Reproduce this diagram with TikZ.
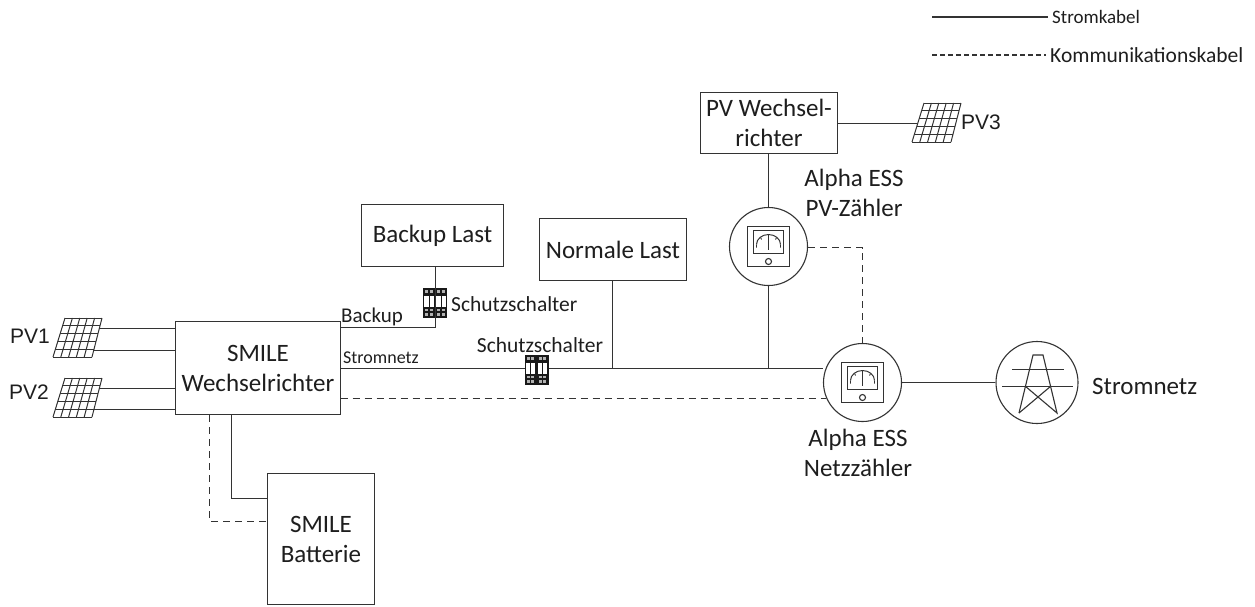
\documentclass[tikz,border=0pt]{standalone}
\usepackage{fontspec}
\setmainfont{Carlito}
\newfontfamily\arialf{Liberation Sans}
\definecolor{ln}{HTML}{333333}
\definecolor{tx}{HTML}{1E1E1E}
\tikzset{
  x=1pt,y=-1pt,
  wire/.style={draw=ln,line width=1.1pt},
  comm/.style={draw=ln,line width=1.1pt,dash pattern=on 7pt off 5pt},
  boxn/.style={draw=ln,line width=1.1pt,fill=white,text=tx,inner sep=0pt,outer sep=0pt,align=center,font=\fontsize{25}{30}\selectfont},
  ring/.style={draw=ln,line width=1.1pt,circle,fill=white,inner sep=0pt},
  lab/.style={text=tx,inner sep=0pt,align=center,font=\fontsize{25}{30}\selectfont},
  smalllab/.style={text=tx,inner sep=0pt,font=\fontsize{21.5}{26}\selectfont},
  pvlab/.style={text=tx,inner sep=0pt,font=\arialf\fontsize{21}{25}\selectfont},
  panelgrid/.pic={
    \fill[white] (12,-19.5)--(49,-19.5)--(39,19.5)--(0,19.5)--cycle;
    \foreach \i in {0,...,5}{
      \draw[draw=ln,line width=1pt] ({12+37*\i/5},-19.5)--({0+39*\i/5},19.5);
    }
    \foreach \j in {0,...,5}{
      \draw[draw=ln,line width=1pt] ({12-12*\j/5},{-19.5+39*\j/5})--({49-10*\j/5},{-19.5+39*\j/5});
    }
  },
  meterpic/.pic={
    \draw[draw=ln,line width=1.1pt] (-21,-20) rectangle (21,20);
    \draw[draw=ln,line width=1.1pt] (-15,-16) rectangle (15,7);
    \draw[draw=ln,line width=1pt] (-12,-2) arc[start angle=180,end angle=360,x radius=12,y radius=10];
    \draw[draw=ln,line width=1pt] (0,-12)--(0,3);
    \draw[draw=ln,line width=.9pt] (-8,-9)--(-7,-7) (8,-9)--(7,-7) (-12,-2)--(-12,1) (12,-2)--(12,1);
    \draw[draw=ln,line width=1.1pt] (0,15) circle (3);
  },
  breakerpic/.pic={
    \fill[black!90] (-12,-15) rectangle (12,15);
    \foreach \x in {-11,1}{
      \fill[white] (\x,-7) rectangle ++(9.5,11);
      \fill[white!70!black] (\x+1,-13) rectangle ++(3,3);
      \fill[white!70!black] (\x+5.5,-13) rectangle ++(3,3);
      \fill[white!70!black] (\x+1,6) rectangle ++(3,2);
      \fill[white!70!black] (\x+5.5,6) rectangle ++(3,2);
      \fill[white!70!black] (\x+1,10) rectangle ++(3,3);
      \fill[white!70!black] (\x+5.5,10) rectangle ++(3,3);
    }
    \draw[black!90,line width=.8pt] (-6,-7)--(-6,4) (6,-7)--(6,4);
  }
}
\begin{document}
\begin{tikzpicture}
\useasboundingbox (0,0) rectangle (1255,606);
% boxes
\node[boxn,minimum width=165pt,minimum height=93pt] (inv) at (258,368) {SMILE\\Wechselrichter};
\node[boxn,minimum width=107pt,minimum height=131pt] (bat) at (321,539) {SMILE\\Batterie};
\node[boxn,minimum width=142pt,minimum height=62pt] (bl) at (432.5,235.5) {Backup Last};
\node[boxn,minimum width=147pt,minimum height=62pt] (nl) at (613,249.5) {Normale Last};
\node[boxn,minimum width=137pt,minimum height=61pt] (pvi) at (769,123) {PV Wechsel-\\richter};
\node[ring,minimum size=78pt] (m1) at (768.5,246.5) {};
\node[ring,minimum size=78pt] (m2) at (862.5,382.5) {};
\node[ring,minimum size=82pt] (gr) at (1037,382.5) {};
\node[inner sep=0pt,minimum size=1pt] (pv1) at (53,337.5) {};
\node[inner sep=0pt,minimum size=1pt] (pv2) at (53,397.5) {};
\node[inner sep=0pt,minimum size=1pt] (pv3) at (912,122.5) {};
\node[inner sep=0pt,minimum size=1pt] (br1) at (435,303) {};
\node[inner sep=0pt,minimum size=1pt] (br2) at (536.5,370) {};
% junctions and free ends
\coordinate (j1) at (612.5,368.5);
\coordinate (j2) at (768.5,368.5);
\coordinate (c1) at (435.5,327.5);
\coordinate (a1) at (97,328.5);
\coordinate (a2) at (92,350.5);
\coordinate (a3) at (97,388.5);
\coordinate (a4) at (92,409.5);
\coordinate (a5) at (920,123.5);
\coordinate (leg1a) at (932,17);\coordinate (leg1b) at (1048,17);
\coordinate (leg2a) at (932,55);\coordinate (leg2b) at (1046,55);
% power wiring
\draw[wire] (a1)--(a1-|inv.west);
\draw[wire] (a2)--(a2-|inv.west);
\draw[wire] (a3)--(a3-|inv.west);
\draw[wire] (a4)--(a4-|inv.west);
\draw[wire] (pvi.east|-a5)--(a5);
\draw[wire] (inv.east|-c1)--(c1)--(c1|-bl.south);
\draw[wire] (inv.east|-j1)--(m2.west|-j1);
\draw[wire] (j1)--(j1|-nl.south);
\draw[wire] (j2)--(m1.south);
\draw[wire] (m1.north)--(m1.north|-pvi.south);
\draw[wire] (m2.east)--(gr.west);
\draw[wire] (231.5,415)--(231.5,498.5)--(bat.west|-0,498.5);
% comm wiring
\draw[comm] (inv.east|-0,398.5)--(826,398.5);
\draw[comm] (m1.east)++(0,1)--(862.5,247.5)--(m2.north);
\draw[comm] (209.5,415)--(209.5,521.5)--(bat.west|-0,521.5);
% legend
\draw[wire,line width=1.4pt] (leg1a)--(leg1b);
\draw[draw=ln,line width=1.4pt,dash pattern=on 5pt off 3pt] (leg2a)--(leg2b);
% symbols
\pic at (pv1) {panelgrid};
\pic at (pv2) {panelgrid};
\pic at (pv3) {panelgrid};
\pic at (m1) {meterpic};
\pic at (m2) {meterpic};
\pic at (br1) {breakerpic};
\pic at (br2) {breakerpic};
\draw[wire] (435.5,288)--(435.5,318);
% tower
\draw[draw=ln,line width=1.1pt] (1019,413)--(1033,355)--(1043,355)--(1057,413)--(1025,386);
\draw[draw=ln,line width=1.1pt] (1051,386)--(1019,413);
\draw[draw=ln,line width=1.1pt] (1012,369.5)--(1064,369.5) (1002,386.5)--(1073,386.5);
% labels
\node[lab] (tm1) at (854,193) {Alpha ESS\\PV-Zähler};
\node[lab] (tm2) at (858,453) {Alpha ESS\\Netzzähler};
\node[lab,anchor=west] (tg) at (1092,386) {Stromnetz};
\node[smalllab,anchor=west] (ts1) at (451,304) {Schutzschalter};
\node[smalllab] (ts2) at (540,345) {Schutzschalter};
\node[smalllab,anchor=west,font=\fontsize{21}{25}\selectfont] (tb) at (341,317) {Backup};
\node[smalllab,anchor=west,font=\fontsize{18}{22}\selectfont] (tsn) at (343,358) {Stromnetz};
\node[pvlab,anchor=west] (p1) at (10,336) {PV1};
\node[pvlab,anchor=west] (p2) at (9,392) {PV2};
\node[pvlab,anchor=west] (p3) at (961,122) {PV3};
\node[smalllab,anchor=west,font=\fontsize{19}{23}\selectfont] (l1) at (1052,17) {Stromkabel};
\node[smalllab,anchor=west] (l2) at (1050,55) {Kommunikationskabel};
\end{tikzpicture}
\end{document}
